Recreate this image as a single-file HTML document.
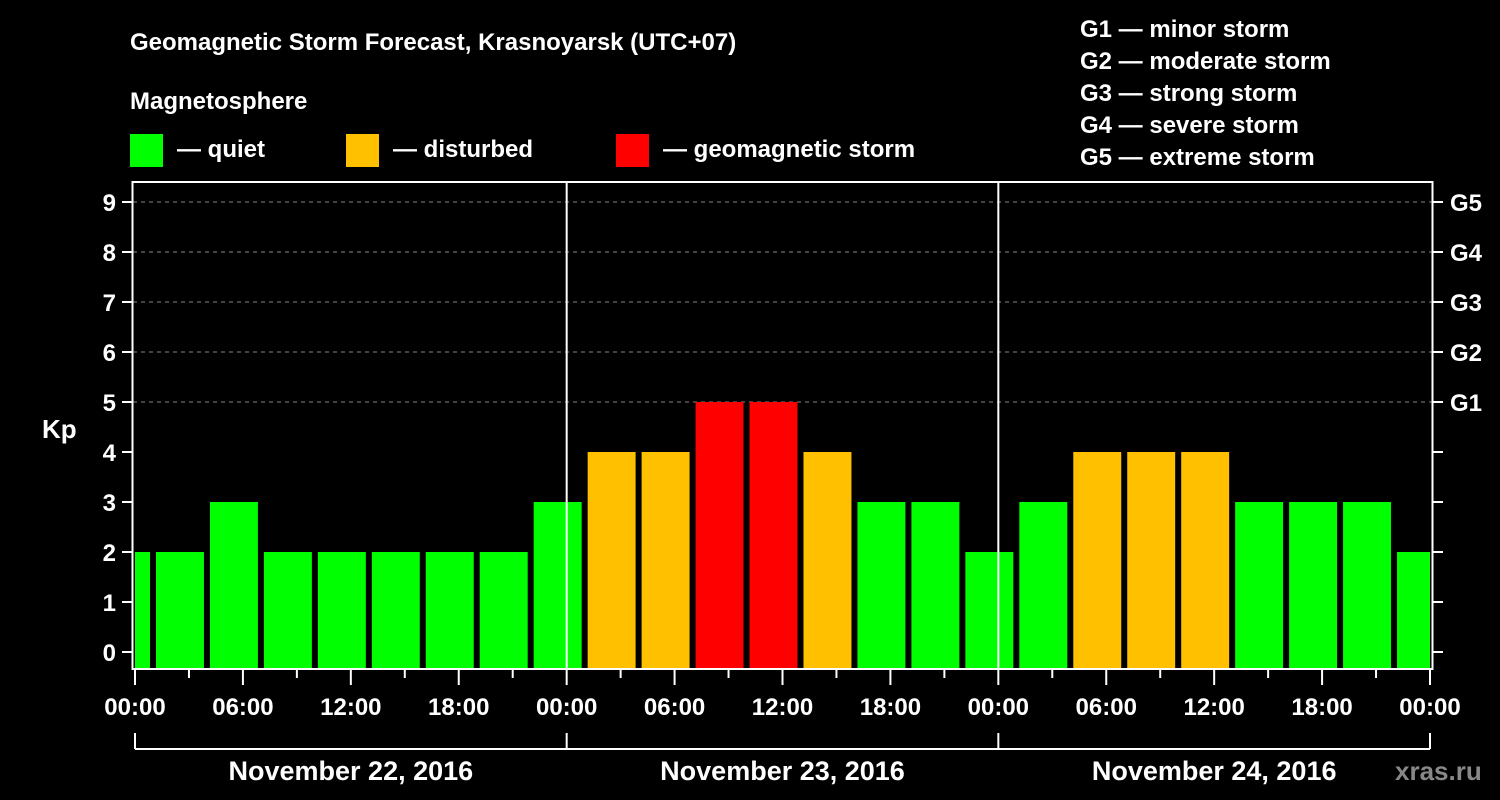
<!DOCTYPE html>
<html><head><meta charset="utf-8"><style>
body{margin:0;background:#000;}
svg{display:block;font-family:"Liberation Sans",Arial,sans-serif;font-weight:bold;}
</style></head><body>
<svg id="c" width="1500" height="800" viewBox="0 0 1500 800">
<rect width="1500" height="800" fill="#000"/>
<text x="130" y="50" fill="#fff" font-size="24">Geomagnetic Storm Forecast, Krasnoyarsk (UTC+07)</text>
<text x="130" y="109" fill="#fff" font-size="24">Magnetosphere</text>
<g><rect x="130" y="134" width="33" height="33" fill="#00ff00"/><text x="177" y="157" fill="#fff" font-size="24">— quiet</text></g>
<g><rect x="346" y="134" width="33" height="33" fill="#ffc000"/><text x="393" y="157" fill="#fff" font-size="24">— disturbed</text></g>
<g><rect x="616" y="134" width="33" height="33" fill="#ff0000"/><text x="663" y="157" fill="#fff" font-size="24">— geomagnetic storm</text></g>
<g fill="#fff" font-size="24">
<text x="1080" y="37">G1 — minor storm</text>
<text x="1080" y="69">G2 — moderate storm</text>
<text x="1080" y="101">G3 — strong storm</text>
<text x="1080" y="133">G4 — severe storm</text>
<text x="1080" y="165">G5 — extreme storm</text>
</g>
<text x="42" y="438" fill="#fff" font-size="26">Kp</text>
<text x="1395" y="780" fill="#888" font-size="26">xras.ru</text>
<g id="grid"></g><g id="bars"></g><g id="axes"></g>
</svg>
<script>
const kpValues=[2,2,3,2,2,2,2,2,3,4,4,5,5,4,3,3,2,3,4,4,4,3,3,3,2];
const barStartHours=[-2,1,4,7,10,13,16,19,22,25,28,31,34,37,40,43,46,49,52,55,58,61,64,67,70];
const yTicks=[0,1,2,3,4,5,6,7,8,9];
const gLabels=["G1","G2","G3","G4","G5"];
const gLevels=[5,6,7,8,9];
const xTickLabels=["00:00","06:00","12:00","18:00","00:00","06:00","12:00","18:00","00:00","06:00","12:00","18:00","00:00"];
const dayLabels=["November 22, 2016","November 23, 2016","November 24, 2016"];
const NS="http://www.w3.org/2000/svg";
const X0=135,X1=1430,TOTAL=72,PT=182,PB=668;
const xs=h=>X0+(X1-X0)*h/TOTAL;
const ys=v=>652-50*v;
function mk(p,t,a){const e=document.createElementNS(NS,t);for(const k in a)e.setAttribute(k,a[k]);p.appendChild(e);return e;}
const grid=document.getElementById('grid'),bars=document.getElementById('bars'),axes=document.getElementById('axes');
gLevels.forEach(v=>{const l=mk(grid,'line',{x1:133,x2:1433,y1:ys(v),y2:ys(v),stroke:'#888','stroke-dasharray':'4,4'});

});
kpValues.forEach((v,i)=>{const h=barStartHours[i];
let a=Math.max(xs(h)+3,X0),b=Math.min(xs(h+3)-3,X1);
const col=v>=5?'#ff0000':v>=4?'#ffc000':'#00ff00';
const r=mk(bars,'rect',{x:a,y:ys(v),width:b-a,height:PB-ys(v),fill:col});

});
// day separators
[24,48].forEach(h=>{const l=mk(axes,'line',{x1:xs(h),x2:xs(h),y1:PT,y2:PB,stroke:'#fff','stroke-width':2});

});
const fr=mk(axes,'rect',{x:132.5,y:PT,width:1300,height:PB-PT+1,fill:'none',stroke:'#fff','stroke-width':2});


yTicks.forEach(v=>{const y=ys(v);
mk(axes,'line',{x1:122,x2:132,y1:y,y2:y,stroke:'#fff','stroke-width':2});
mk(axes,'line',{x1:1433,x2:1443,y1:y,y2:y,stroke:'#fff','stroke-width':2});
const t=mk(axes,'text',{x:116,y:y+9,fill:'#fff','font-size':24,'text-anchor':'end'});t.textContent=v;

});
gLevels.forEach((v,i)=>{const t=mk(axes,'text',{x:1450,y:ys(v)+9,fill:'#fff','font-size':24});t.textContent=gLabels[i];

});
for(let h=0;h<=TOTAL;h+=3){const x=xs(h);mk(axes,'line',{x1:x,x2:x,y1:669,y2:h%6==0?685:678,stroke:'#fff','stroke-width':2});}
xTickLabels.forEach((s,i)=>{const t=mk(axes,'text',{x:xs(i*6),y:715,fill:'#fff','font-size':24,'text-anchor':'middle'});t.textContent=s;

});
mk(axes,'line',{x1:X0,x2:X1,y1:749,y2:749,stroke:'#fff','stroke-width':2});
[0,24,48,72].forEach(h=>mk(axes,'line',{x1:xs(h),x2:xs(h),y1:733,y2:749,stroke:'#fff','stroke-width':2}));
dayLabels.forEach((s,i)=>{const t=mk(axes,'text',{x:xs(i*24+12),y:780,fill:'#fff','font-size':27,'text-anchor':'middle'});t.textContent=s;

});
</script>
</body></html>
